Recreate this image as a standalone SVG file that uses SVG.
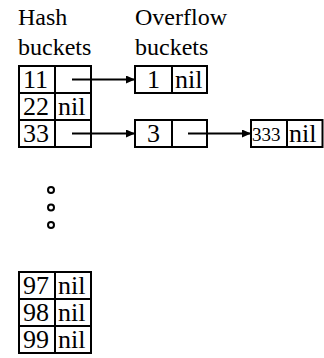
<svg xmlns="http://www.w3.org/2000/svg" width="324" height="358" viewBox="0 0 324 358">
<defs>
<style>
text{font-family:'Liberation Serif','DejaVu Serif',serif;fill:#000}
.t{font-size:26px}
.h{font-size:24px}
.s{font-size:19px}
.c{fill:#fff;stroke:#000;stroke-width:2}
.e{fill:none;stroke:#000;stroke-width:1.8}
.d{fill:#fff;stroke:#000;stroke-width:2}
</style>
<marker id="ah" markerWidth="10" markerHeight="8" refX="9" refY="4" orient="auto" markerUnits="userSpaceOnUse">
<path d="M0,0 L9,4 L0,8 Z" fill="#000"/>
</marker>
</defs>
<rect width="324" height="358" fill="#fff"/>
<g id="labels" font-family="Liberation Serif, serif">
<text class="h" x="18" y="25">Hash</text>
<text class="h" x="18" y="55">buckets</text>
<text class="h" x="135" y="25">Overflow</text>
<text class="h" x="135" y="55">buckets</text>
</g>
<g id="hash-11">
<rect class="c" x="19" y="66" width="36" height="27"/><rect class="c" x="55" y="66" width="36" height="27"/>
<text class="t" x="23" y="88">11</text>
</g>
<g id="hash-22">
<rect class="c" x="19" y="93" width="36" height="27"/><rect class="c" x="55" y="93" width="36" height="27"/>
<text class="t" x="23" y="115">22</text><text class="t" x="58" y="115">nil</text>
</g>
<g id="hash-33">
<rect class="c" x="19" y="120" width="36" height="27"/><rect class="c" x="55" y="120" width="36" height="27"/>
<text class="t" x="23" y="142">33</text>
</g>
<g id="ovf-1">
<rect class="c" x="135" y="66" width="37" height="27"/><rect class="c" x="172" y="66" width="35" height="27"/>
<text class="t" x="147" y="88">1</text><text class="t" x="175" y="88">nil</text>
</g>
<g id="ovf-3">
<rect class="c" x="135" y="120" width="37" height="27"/><rect class="c" x="172" y="120" width="35" height="27"/>
<text class="t" x="147" y="142">3</text>
</g>
<g id="ovf-333">
<rect class="c" x="251" y="120" width="36" height="27"/><rect class="c" x="287" y="120" width="35.5" height="27"/>
<text class="s" x="252" y="141">333</text><text class="t" x="289" y="142">nil</text>
</g>
<g id="ellipsis">
<circle class="d" cx="51" cy="190" r="3"/>
<circle class="d" cx="51" cy="207.5" r="3"/>
<circle class="d" cx="51" cy="225" r="3"/>
</g>
<g id="hash-97">
<rect class="c" x="19" y="272" width="36" height="27"/><rect class="c" x="55" y="272" width="36" height="27"/>
<text class="t" x="23" y="294">97</text><text class="t" x="58" y="294">nil</text>
</g>
<g id="hash-98">
<rect class="c" x="19" y="299" width="36" height="27"/><rect class="c" x="55" y="299" width="36" height="27"/>
<text class="t" x="23" y="321">98</text><text class="t" x="58" y="321">nil</text>
</g>
<g id="hash-99">
<rect class="c" x="19" y="326" width="36" height="27"/><rect class="c" x="55" y="326" width="36" height="27"/>
<text class="t" x="23" y="348">99</text><text class="t" x="58" y="348">nil</text>
</g>
<g id="connectors">
<line class="e" x1="72" y1="79.5" x2="135" y2="79.5" marker-end="url(#ah)"/>
<line class="e" x1="72" y1="133.5" x2="135" y2="133.5" marker-end="url(#ah)"/>
<line class="e" x1="188" y1="133.5" x2="251" y2="133.5" marker-end="url(#ah)"/>
</g>
</svg>
